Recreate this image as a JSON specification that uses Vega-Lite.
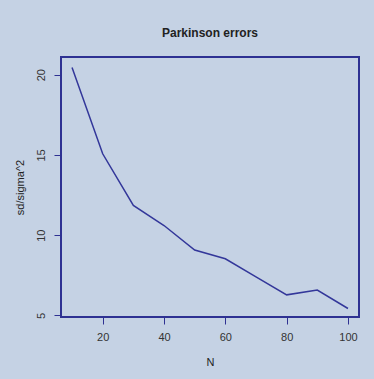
{
  "$schema": "https://vega.github.io/schema/vega-lite/v6.json",
  "width": 298,
  "height": 260,
  "autosize": {"type": "none"},
  "padding": {"left": 61, "top": 57, "right": 15, "bottom": 62},
  "background": "#c5d2e4",
  "title": {
    "text": "Parkinson errors",
    "font": "Liberation Sans",
    "fontSize": 12,
    "fontWeight": "bold",
    "color": "#222222",
    "anchor": "middle",
    "offset": 17
  },
  "config": {
    "view": {"stroke": "#2e3192", "strokeWidth": 2, "fill": null},
    "axis": {
      "labelFont": "Liberation Sans",
      "titleFont": "Liberation Sans",
      "labelFontSize": 11,
      "titleFontSize": 11,
      "titleFontWeight": "normal",
      "labelColor": "#333333",
      "titleColor": "#222222",
      "tickColor": "#2e3192",
      "tickSize": 7,
      "domain": false,
      "grid": false
    }
  },
  "data": {
    "values": [
      {"N": 10, "v": 20.45},
      {"N": 20, "v": 15.07},
      {"N": 30, "v": 11.85},
      {"N": 40, "v": 10.6},
      {"N": 50, "v": 9.07},
      {"N": 60, "v": 8.53},
      {"N": 70, "v": 7.4},
      {"N": 80, "v": 6.28},
      {"N": 90, "v": 6.58},
      {"N": 100, "v": 5.43}
    ]
  },
  "mark": {"type": "line", "color": "#33379a", "strokeWidth": 1.5},
  "encoding": {
    "x": {
      "field": "N",
      "type": "quantitative",
      "scale": {"domain": [6.4, 103.6], "nice": false, "zero": false},
      "axis": {"values": [20, 40, 60, 80, 100], "title": "N", "labelPadding": 7, "titlePadding": 14}
    },
    "y": {
      "field": "v",
      "type": "quantitative",
      "scale": {"domain": [4.9, 21.1], "nice": false, "zero": false},
      "axis": {"values": [5, 10, 15, 20], "title": "sd/sigma^2", "labelAngle": -90, "labelAlign": "center", "labelBaseline": "bottom", "labelPadding": 8, "titlePadding": 10}
    }
  }
}
